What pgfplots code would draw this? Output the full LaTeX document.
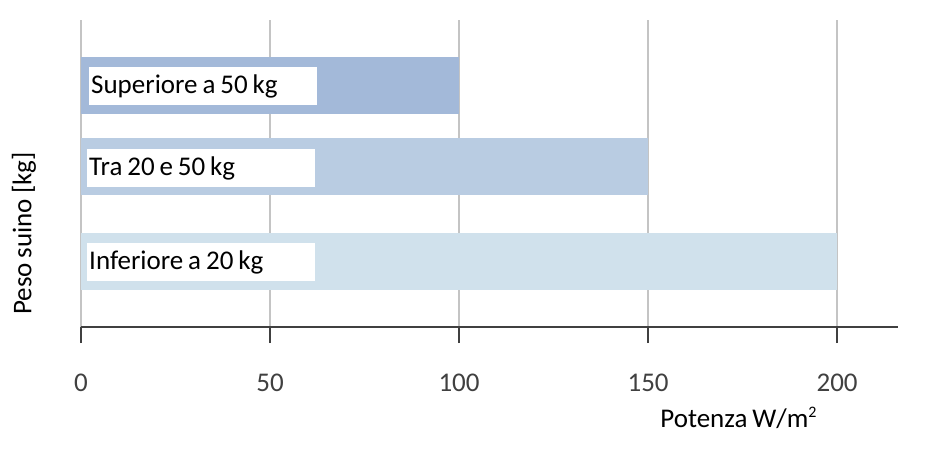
\documentclass[border=0pt]{standalone}
\usepackage{fontspec}
\setmainfont[WordSpace=0.8]{Carlito}
\usepackage{pgfplots}
\pgfplotsset{compat=1.18}
\definecolor{barA}{HTML}{A3B9D9}
\definecolor{barB}{HTML}{B9CCE2}
\definecolor{barC}{HTML}{D0E1EC}
\definecolor{gridc}{HTML}{C4C4C4}
\definecolor{axisc}{HTML}{404040}
\begin{document}
\begin{tikzpicture}[x=1pt,y=1pt]
\path[use as bounding box] (0,0) rectangle (936,-465);
\begin{axis}[
  at={(81pt,-327pt)}, anchor=south west,
  scale only axis, width=816.6pt, height=307pt,
  xmin=0, xmax=216, ymin=-327, ymax=-20,
  axis x line*=bottom, axis y line=none,
  axis line style={-, axisc, line width=2pt},
  xtick={0,50,100,150,200},
  tick pos=lower, tick align=outside,
  major tick length=16pt,
  tick style={axisc, line width=2pt},
  xmajorgrids, grid style={gridc, line width=2pt},
  font=\fontsize{27}{32}\selectfont,
  /pgf/number format/assume math mode=true,
  xticklabel style={anchor=center, yshift=-40pt, text=axisc},
  xlabel={Potenza W/m\raisebox{0.38em}{\fontsize{16}{16}\selectfont 2}},
  every axis x label/.style={at={(axis cs:173.9,-418)}, anchor=center, text=black},
  clip=false,
]
\addplot[xbar, bar shift=0pt, bar width=57, fill=barA, draw=none] coordinates {(100,-85.5)};
\addplot[xbar, bar shift=0pt, bar width=57, fill=barB, draw=none] coordinates {(150,-166.5)};
\addplot[xbar, bar shift=0pt, bar width=57, fill=barC, draw=none] coordinates {(200,-261.5)};
\node[fill=white, anchor=west, minimum height=38pt, inner sep=2pt] at (axis cs:2.1,-86) {\makebox[224pt][l]{Superiore a 50 kg}};
\node[fill=white, anchor=west, minimum height=38pt, inner sep=2pt] at (axis cs:1.59,-168) {\makebox[224pt][l]{Tra 20 e 50 kg}};
\node[fill=white, anchor=west, minimum height=38pt, inner sep=2pt] at (axis cs:1.59,-262) {\makebox[224pt][l]{Inferiore a 20 kg}};
\end{axis}
\node[rotate=90, anchor=center, font=\fontsize{27}{32}\selectfont] at (24,-233.5) {Peso suino [kg]};
\end{tikzpicture}
\end{document}
